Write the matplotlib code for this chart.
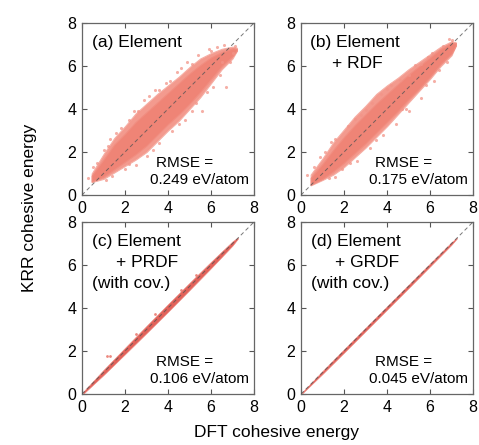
import matplotlib
matplotlib.use("Agg")
import matplotlib.pyplot as plt

plt.rcParams['font.family'] = ['Liberation Sans', 'DejaVu Sans']

# DFT energy grid (eV/atom) where the cloud edges were read
grid_ab = [0.45, 1.0, 1.5, 2.0, 2.5, 3.0, 3.5, 4.0, 4.5, 5.0, 5.5, 6.0, 6.5, 7.0, 7.2]

# (a) Element
a_outer_hi = [1.0, 1.9, 2.65, 3.2, 3.8, 4.25, 4.7, 5.1, 5.5, 5.95, 6.35, 6.6, 6.8, 6.9, 6.85]
a_outer_lo = [0.6, 0.75, 1.05, 1.35, 1.65, 2.0, 2.5, 3.0, 3.45, 4.0, 4.55, 5.2, 5.85, 6.35, 6.7]
a_inner_hi = [0.9, 1.65, 2.35, 2.85, 3.4, 3.85, 4.3, 4.75, 5.2, 5.65, 6.05, 6.4, 6.65, 6.82, 6.8]
a_inner_lo = [0.63, 0.85, 1.2, 1.55, 1.9, 2.3, 2.8, 3.3, 3.75, 4.25, 4.8, 5.4, 6.0, 6.45, 6.72]
a_out_x = [0.3, 0.5, 1.0, 1.3, 1.8, 2.2, 2.6, 3.1, 3.4, 3.9, 4.4, 4.9, 5.4, 5.9, 6.3, 6.6,
           6.5, 6.9, 6.4, 5.8, 5.3, 4.8, 4.2, 3.6, 3.0, 2.5, 2.0, 1.4, 5.6, 6.7, 7.0, 4.6,
           0.7, 1.2, 1.6, 2.4, 2.9, 3.6, 4.1, 5.1, 6.0, 7.1, 6.1, 5.1, 4.5, 3.3, 2.2, 1.1]
a_out_y = [0.8, 1.3, 2.1, 2.6, 3.1, 3.5, 3.9, 4.6, 4.9, 5.2, 5.7, 6.2, 6.5, 6.8, 6.9, 7.0,
           6.2, 6.2, 5.6, 4.8, 4.3, 3.5, 3.0, 2.4, 1.8, 1.4, 1.2, 0.9, 3.9, 5.0, 6.6, 5.9,
           1.5, 2.3, 2.9, 3.9, 4.4, 4.9, 5.3, 6.1, 6.7, 6.95, 5.0, 3.9, 3.3, 2.1, 1.45, 0.7]

# (b) Element + RDF
b_outer_hi = [0.95, 1.7, 2.45, 3.05, 3.65, 4.15, 4.7, 5.1, 5.45, 5.85, 6.2, 6.55, 6.9, 7.15, 7.1]
b_outer_lo = [0.45, 0.7, 0.95, 1.3, 1.75, 2.2, 2.7, 3.2, 3.75, 4.3, 4.85, 5.4, 6.0, 6.5, 6.95]
b_inner_hi = [0.8, 1.45, 2.1, 2.7, 3.25, 3.75, 4.25, 4.7, 5.15, 5.6, 6.0, 6.4, 6.8, 7.08, 7.07]
b_inner_lo = [0.48, 0.75, 1.1, 1.5, 1.95, 2.4, 2.9, 3.4, 3.9, 4.45, 4.95, 5.5, 6.1, 6.58, 6.95]
b_out_x = [0.3, 0.6, 1.1, 1.6, 2.2, 2.8, 3.3, 3.7, 4.2, 5.0, 5.6, 6.1, 6.6, 7.0,
           6.8, 6.2, 5.6, 5.0, 4.4, 3.8, 3.2, 2.6, 1.9, 1.3, 4.9, 6.4,
           0.9, 1.4, 2.5, 3.0, 4.0, 4.6, 5.3, 5.9, 6.9, 5.8, 4.7, 3.5, 2.3, 1.6]
b_out_y = [0.95, 1.3, 2.0, 2.6, 3.2, 3.7, 4.3, 4.7, 5.1, 5.6, 6.1, 6.6, 6.95, 7.2,
           6.2, 5.3, 4.5, 3.9, 3.3, 2.8, 2.2, 1.6, 1.2, 0.8, 4.0, 5.8,
           1.75, 2.45, 3.55, 3.95, 4.95, 5.35, 6.05, 6.4, 7.25, 5.1, 4.0, 2.55, 1.5, 0.85]

# (c) Element + PRDF (with cov.) and (d) Element + GRDF (with cov.)
grid_cd = [0.05, 1.0, 2.0, 3.0, 4.0, 5.0, 6.0, 7.0, 7.25]
c_hi = [0.1, 1.12, 2.15, 3.17, 4.18, 5.17, 6.15, 7.1, 7.28]
c_lo = [0.0, 0.88, 1.85, 2.83, 3.82, 4.83, 5.85, 6.9, 7.22]
c_out_x = [1.15, 1.3, 2.5, 3.4, 4.6, 5.3]
c_out_y = [1.78, 1.78, 2.8, 3.7, 4.85, 5.55]
d_hi = [0.08, 1.07, 2.08, 3.08, 4.08, 5.08, 6.07, 7.06, 7.27]
d_lo = [0.02, 0.93, 1.92, 2.92, 3.92, 4.92, 5.93, 6.94, 7.23]

panels = [
    dict(pos=[82, 23], hi=a_outer_hi, lo=a_outer_lo, ihi=a_inner_hi, ilo=a_inner_lo,
         grid=grid_ab, ox=a_out_x, oy=a_out_y,
         lines=[("(a) Element", 0.45)], rmse="0.249 eV/atom"),
    dict(pos=[301, 23], hi=b_outer_hi, lo=b_outer_lo, ihi=b_inner_hi, ilo=b_inner_lo,
         grid=grid_ab, ox=b_out_x, oy=b_out_y,
         lines=[("(b) Element", 0.42), ("+ RDF", 1.45)], rmse="0.175 eV/atom"),
    dict(pos=[82, 222], hi=c_hi, lo=c_lo, ihi=None, ilo=None,
         grid=grid_cd, ox=c_out_x, oy=c_out_y,
         lines=[("(c) Element", 0.45), ("+ PRDF", 1.6), ("(with cov.)", 0.45)],
         rmse="0.106 eV/atom"),
    dict(pos=[301, 222], hi=d_hi, lo=d_lo, ihi=None, ilo=None,
         grid=grid_cd, ox=[], oy=[],
         lines=[("(d) Element", 0.45), ("+ GRDF", 1.6), ("(with cov.)", 0.45)],
         rmse="0.045 eV/atom"),
]

W, H = 479, 445
fig = plt.figure(figsize=(W / 100, H / 100), dpi=100)

for p in panels:
    x0, y0 = p["pos"]
    ax = fig.add_axes([x0 / W, 1 - (y0 + 172) / H, 172 / W, 172 / H])
    if p["ihi"] is not None:
        ax.fill_between(p["grid"], p["lo"], p["hi"], color="#F39A8E", lw=0.8,
                        edgecolor="#F6AFA5", zorder=1)
        ax.fill_between(p["grid"], p["ilo"], p["ihi"], color="#EF8476", lw=0.8,
                        edgecolor="#F18D80", zorder=2)
        ax.scatter(p["ox"], p["oy"], s=5, color="#F29488", alpha=0.75, lw=0, zorder=2)
    else:
        ax.fill_between(p["grid"], p["lo"], p["hi"], color="#E2625A", lw=0.4,
                        edgecolor="#EE8C84", zorder=2)
        if p["ox"]:
            ax.scatter(p["ox"], p["oy"], s=4, color="#EA7A70", alpha=0.9, lw=0, zorder=2)
    ax.plot([0, 8], [0, 8], ls=(0, (4, 3)), color="#555555", lw=0.7, alpha=0.8, zorder=3)
    ax.set_xlim(0, 8)
    ax.set_ylim(0, 8)
    ax.set_xticks([0, 2, 4, 6, 8])
    ax.set_yticks([0, 2, 4, 6, 8])
    ax.tick_params(direction="in", top=True, right=True, length=3.5, width=0.8,
                   color="#555555", labelsize=11.5, pad=4)
    for s in ax.spines.values():
        s.set_color("#666666")
        s.set_linewidth(0.9)
    ty = 7.1
    for txt, tx in p["lines"]:
        ax.text(tx, ty, txt, fontsize=12.5, va="center", ha="left")
        ty -= 0.97
    ax.text(3.45, 1.5, "RMSE =", fontsize=11, va="center", ha="left")
    ax.text(3.18, 0.7, p["rmse"], fontsize=11, va="center", ha="left")

fig.text(30 / W, 1 - 208 / H, "KRR cohesive energy", rotation=90,
         ha="center", va="center", fontsize=12.5)
fig.text(276 / W, 1 - 433 / H, "DFT cohesive energy", ha="center", va="center",
         fontsize=12.5)

fig.savefig("out.png", dpi=100)
